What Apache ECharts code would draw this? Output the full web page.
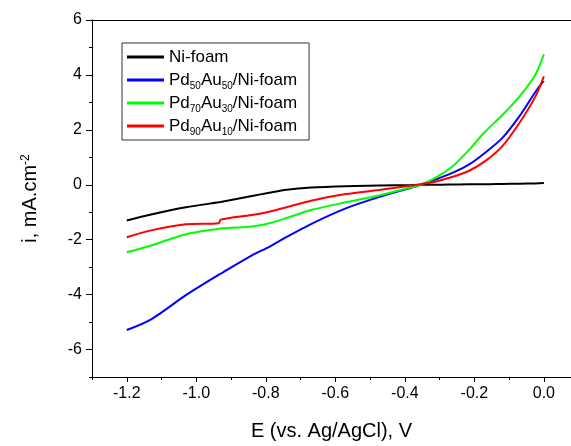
<!DOCTYPE html>
<html>
<head>
<meta charset="utf-8">
<script src="https://cdn.jsdelivr.net/npm/echarts@6.0.0/dist/echarts.min.js"></script>
<style>
html,body{margin:0;padding:0;background:#fff;}
#chart{width:571px;height:446px;}
</style>
</head>
<body>
<div id="chart"></div>
<script>
// Potential (V vs Ag/AgCl)
var potential = [-1.2, -1.13, -1.03, -0.935, -0.93, -0.84, -0.79, -0.74, -0.67, -0.57, -0.475, -0.38, -0.355, -0.31, -0.26, -0.215, -0.17, -0.12, -0.07, -0.025, 0];
// Current density (mA/cm^2)
var niFoam   = [-1.30, -1.08, -0.82, -0.64, -0.63, -0.41, -0.29, -0.18, -0.10, -0.05, -0.03, -0.01, 0.00, 0.00, 0.01, 0.02, 0.02, 0.03, 0.04, 0.05, 0.06];
var pd50au50 = [-5.29, -4.90, -4.02, -3.27, -3.24, -2.57, -2.26, -1.90, -1.43, -0.86, -0.45, -0.10, 0.00, 0.20, 0.45, 0.74, 1.16, 1.70, 2.50, 3.37, 3.79];
var pd70au30 = [-2.46, -2.21, -1.80, -1.60, -1.59, -1.52, -1.40, -1.21, -0.92, -0.64, -0.39, -0.09, 0.00, 0.27, 0.70, 1.28, 1.92, 2.53, 3.22, 4.00, 4.75];
var pd90au10 = [-1.91, -1.66, -1.44, -1.40, -1.27, -1.10, -0.98, -0.82, -0.58, -0.34, -0.19, -0.03, 0.02, 0.12, 0.30, 0.51, 0.85, 1.40, 2.26, 3.20, 3.95];

var seriesNames = ['Ni-foam', 'Pd50Au50/Ni-foam', 'Pd70Au30/Ni-foam', 'Pd90Au10/Ni-foam'];
var legendRich = {
  'Ni-foam': 'Ni-foam',
  'Pd50Au50/Ni-foam': 'Pd{s|50}Au{s|50}/Ni-foam',
  'Pd70Au30/Ni-foam': 'Pd{s|70}Au{s|30}/Ni-foam',
  'Pd90Au10/Ni-foam': 'Pd{s|90}Au{s|10}/Ni-foam'
};
var xMajor = [-1.2, -1.0, -0.8, -0.6, -0.4, -0.2, 0.0];
var xMinor = [-1.3, -1.1, -0.9, -0.7, -0.5, -0.3, -0.1];
var yMajor = [-6, -4, -2, 0, 2, 4, 6];
var yMinor = [-7, -5, -3, -1, 1, 3, 5];

function pairs(xs, ys){ return xs.map(function(x,i){ return [x, ys[i]]; }); }

var FONT = 'Liberation Sans';
var chart = echarts.init(document.getElementById('chart'));
var XMIN = -1.3, XMAX = 0.078, YMIN = -7, YMAX = 6;

function mkSeries(name, data, color){
  return {
    name: name, type: 'line', data: pairs(potential, data),
    xAxisIndex: 0, yAxisIndex: 0,
    showSymbol: false, symbol: 'none', smooth: 0.3,
    lineStyle: {color: color, width: 2}, itemStyle: {color: color},
    animation: false
  };
}

chart.setOption({
  animation: false,
  textStyle: {fontFamily: FONT},
  grid: {left: 92, top: 20, right: 0, bottom: 63, containLabel: false},
  legend: {
    orient: 'vertical', left: 122, top: 43,
    data: seriesNames,
    icon: 'rect', itemWidth: 37, itemHeight: 3, itemGap: 1,
    padding: [3, 12, 3, 5],
    borderColor: '#333', borderWidth: 1,
    formatter: function(n){ return legendRich[n]; },
    textStyle: {fontFamily: FONT, fontSize: 17, color: '#000', lineHeight: 22,
      rich: {s: {fontFamily: FONT, fontSize: 10, color: '#000', verticalAlign: 'bottom', lineHeight: 8}}}
  },
  xAxis: [
    {type: 'value', min: XMIN, max: XMAX, position: 'bottom',
     name: 'E (vs. Ag/AgCl), V', nameLocation: 'middle', nameGap: 44,
     nameTextStyle: {fontFamily: FONT, fontSize: 20, color: '#000'},
     axisLine: {show: true, onZero: false, lineStyle: {color: '#000', width: 1}},
     axisTick: {show: true, inside: false, length: 5, customValues: xMajor, lineStyle: {color: '#000'}},
     axisLabel: {show: true, customValues: xMajor, fontFamily: FONT, fontSize: 16, color: '#000', margin: 9,
       formatter: function(v){ return v.toFixed(1); }},
     splitLine: {show: false}},
    {type: 'value', min: XMIN, max: XMAX, position: 'bottom',
     axisLine: {show: false, onZero: false},
     axisTick: {show: true, inside: false, length: 3, customValues: xMinor, lineStyle: {color: '#000'}},
     axisLabel: {show: false}, splitLine: {show: false}},
    {type: 'value', min: XMIN, max: XMAX, position: 'top',
     axisLine: {show: true, onZero: false, lineStyle: {color: '#000', width: 1}},
     axisTick: {show: false}, axisLabel: {show: false}, splitLine: {show: false}}
  ],
  yAxis: [
    {type: 'value', min: YMIN, max: YMAX, position: 'left',
     name: 'i, mA.cm{sup|-2}', nameLocation: 'middle', nameGap: 52, nameRotate: 90,
     nameTextStyle: {fontFamily: FONT, fontSize: 20, color: '#000',
       rich: {sup: {fontFamily: FONT, fontSize: 12, color: '#000', verticalAlign: 'top', lineHeight: 10}}},
     axisLine: {show: true, onZero: false, lineStyle: {color: '#000', width: 1}},
     axisTick: {show: true, inside: false, length: 6, customValues: yMajor, lineStyle: {color: '#000'}},
     axisLabel: {show: true, customValues: yMajor, fontFamily: FONT, fontSize: 16, color: '#000', margin: 10},
     splitLine: {show: false}},
    {type: 'value', min: YMIN, max: YMAX, position: 'left',
     axisLine: {show: false, onZero: false},
     axisTick: {show: true, inside: false, length: 3, customValues: yMinor, lineStyle: {color: '#000'}},
     axisLabel: {show: false}, splitLine: {show: false}}
  ],
  series: [
    mkSeries(seriesNames[0], niFoam, '#000000'),
    mkSeries(seriesNames[1], pd50au50, '#0000ff'),
    mkSeries(seriesNames[2], pd70au30, '#00ff00'),
    mkSeries(seriesNames[3], pd90au10, '#ff0000')
  ]
});
</script>
</body>
</html>
